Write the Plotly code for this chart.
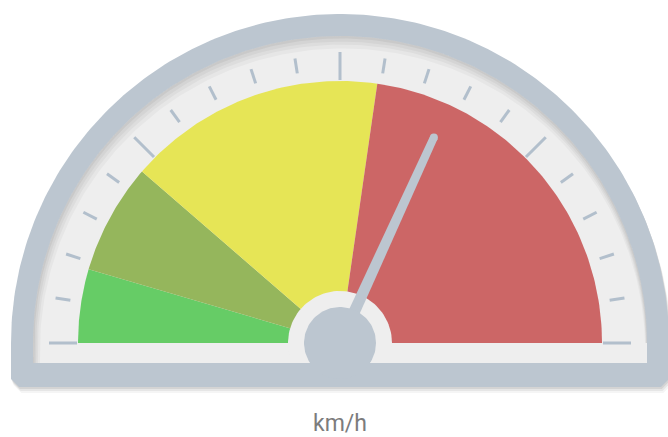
import numpy as np
import plotly.graph_objects as go

# gauge data
scale_min = 0
scale_max = 220
band_edges = [0, 20, 50, 120, 220]
band_colors = ["#66CC66", "#95B65C", "#E6E556", "#CC6666"]
needle_value = 140
major_ticks = [0, 55, 110, 165, 220]
minor_ticks = [11, 22, 33, 44, 66, 77, 88, 99, 121, 132, 143, 154, 176, 187, 198, 209]
unit_label = "km/h"

# styling (pixel radii, centre of the dial at 0,0)
BEZEL = "#BCC6D0"
FACE = "#EEEEEE"
TICK = "#B2BFCC"
R_BEZEL, R_FACE, R_BAND = 329, 307, 262
FACE_BOTTOM, BEZEL_BOTTOM = -20, -44


def angle(v):
    return np.pi * (1 - (v - scale_min) / (scale_max - scale_min))


def arc(r, t0, t1, n=200):
    t = np.linspace(t0, t1, n)
    return list(r * np.cos(t)), list(r * np.sin(t))


def poly(fig, xs, ys, color):
    fig.add_trace(go.Scatter(x=xs, y=ys, fill="toself", fillcolor=color, mode="lines",
                             line=dict(width=0), hoverinfo="skip", showlegend=False))


def bezel_shape(dx=0.0, dy=0.0, c=8):
    ax, ay = arc(R_BEZEL, 0, np.pi)
    xs = ax + [-R_BEZEL, -R_BEZEL, -R_BEZEL + c, R_BEZEL - c, R_BEZEL, R_BEZEL]
    ys = ay + [0, BEZEL_BOTTOM + c, BEZEL_BOTTOM, BEZEL_BOTTOM, BEZEL_BOTTOM + c, 0]
    return [x + dx for x in xs], [y + dy for y in ys]


fig = go.Figure()

# drop shadow under the bezel
for off, a in [(6, 0.04), (4, 0.06), (2, 0.08)]:
    sx, sy = bezel_shape(off * 0.4, -off)
    poly(fig, sx, sy, f"rgba(0,0,0,{a})")

bx, by = bezel_shape()
poly(fig, bx, by, BEZEL)

# face
fx, fy = arc(R_FACE, 0, np.pi)
poly(fig, fx + [-R_FACE, -R_FACE, R_FACE, R_FACE], fy + [0, FACE_BOTTOM, FACE_BOTTOM, 0], FACE)

# inner shadow of the face (heavier at top and left)
t = np.linspace(0, np.pi, 200)
w = 2 + 8 * np.sin(t) + 5 * (1 - np.cos(t)) / 2
for k, a in [(1.0, 0.03), (0.7, 0.035), (0.45, 0.04), (0.2, 0.05)]:
    ri = R_FACE - w * k
    ox = list(R_FACE * np.cos(t)) + [-R_FACE, -R_FACE + w[-1] * k] + list((ri * np.cos(t))[::-1])
    oy = list(R_FACE * np.sin(t)) + [FACE_BOTTOM, FACE_BOTTOM] + list((ri * np.sin(t))[::-1])
    poly(fig, ox, oy, f"rgba(0,0,0,{a})")

# colour bands
for v0, v1, col in zip(band_edges[:-1], band_edges[1:], band_colors):
    ax, ay = arc(R_BAND, angle(v0), angle(v1), 80)
    poly(fig, [0] + ax + [0], [0] + ay + [0], col)

# ticks
for vals, r0, r1 in [(major_ticks, 263, 291), (minor_ticks, 273, 288)]:
    tx, ty = [], []
    for v in vals:
        a = angle(v)
        tx += [r0 * np.cos(a), r1 * np.cos(a), None]
        ty += [r0 * np.sin(a), r1 * np.sin(a), None]
    fig.add_trace(go.Scatter(x=tx, y=ty, mode="lines", line=dict(color=TICK, width=3),
                             hoverinfo="skip", showlegend=False))

# hub ring, clipped by the bottom of the face
ct = np.linspace(0, 2 * np.pi, 120)
poly(fig, list(52 * np.cos(ct)), list(np.maximum(52 * np.sin(ct), FACE_BOTTOM)), FACE)

# needle
a = angle(needle_value)
L = 226
ux, uy = np.cos(a), np.sin(a)
px, py = -uy, ux
nx = [6 * px, L * ux + 4 * px, L * ux - 4 * px, -6 * px]
ny = [6 * py, L * uy + 4 * py, L * uy - 4 * py, -6 * py]
poly(fig, nx, ny, BEZEL)
fig.add_trace(go.Scatter(x=[L * ux], y=[L * uy], mode="markers",
                         marker=dict(size=8, color=BEZEL, line=dict(width=0)),
                         hoverinfo="skip", showlegend=False))

# hub
poly(fig, list(36 * np.cos(ct)), list(36 * np.sin(ct)), BEZEL)

fig.add_annotation(x=0, y=-80, text=unit_label, showarrow=False, yanchor="middle",
                   font=dict(family="Roboto", size=23, color="#7C7C7C"))

fig.update_layout(
    width=668, height=437,
    margin=dict(l=0, r=0, t=0, b=0),
    paper_bgcolor="white", plot_bgcolor="white",
    xaxis=dict(range=[-340, 328], visible=False, fixedrange=True),
    yaxis=dict(range=[-94, 343], visible=False, fixedrange=True),
)

fig.write_html("out.html", config={"displayModeBar": False},
               post_script="document.body.style.margin='0';document.body.style.overflow='hidden';")
